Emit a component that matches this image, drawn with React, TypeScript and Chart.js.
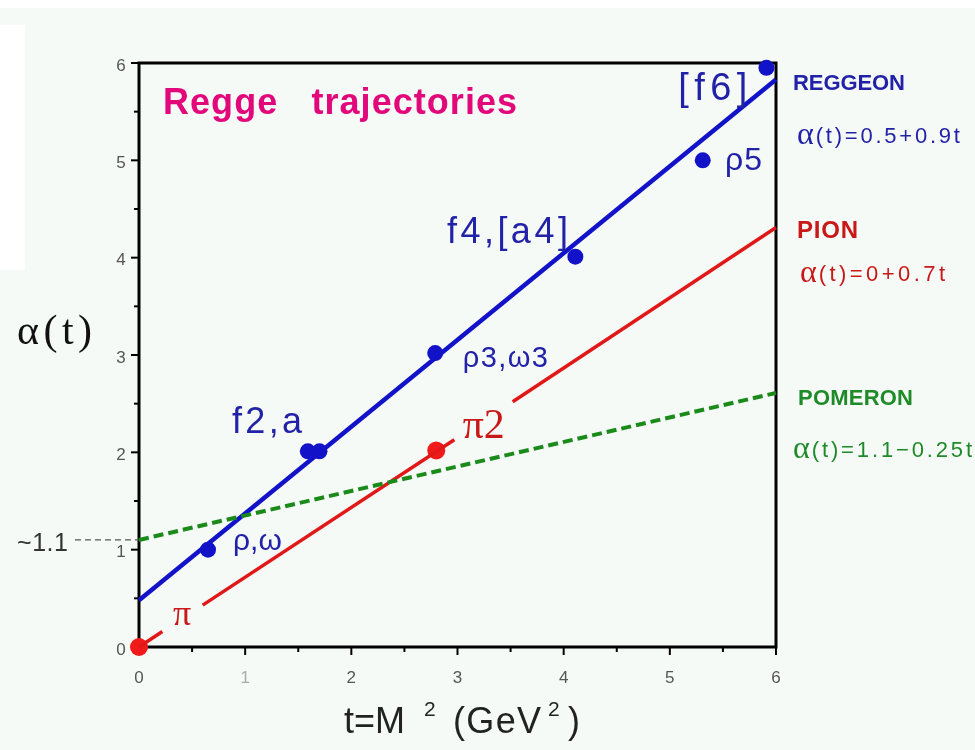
import React, { useEffect, useRef } from "react";
import { Chart, registerables } from "chart.js";

Chart.register(...registerables);

// ---------- data ----------
const tTicks = [0, 1, 2, 3, 4, 5, 6];
const tTickLabels = ["0", "1", "2", "3", "4", "5", "6"];
const alphaTicks = [0, 1, 2, 3, 4, 5, 6];
const alphaTickLabels = ["0", "1", "2", "3", "4", "5", "6"];

// Reggeon trajectory end points (t, alpha)
const reggeonT = [0, 6];
const reggeonAlpha = [0.48, 5.83];
// Pion trajectory, drawn in three pieces (gaps around labels)
const pionSegT = [[0, 0.22], [0.6, 2.97], [3.52, 6]];
const pionSegAlpha = [[0, 0.16], [0.43, 2.13], [2.52, 4.31]];
// Pomeron trajectory
const pomeronT = [0, 6];
const pomeronAlpha = [1.1, 2.61];

// Measured mesons (blue)
const mesonT = [0.65, 1.59, 1.7, 2.79, 4.11, 5.31, 5.91];
const mesonAlpha = [1.0, 2.01, 2.01, 3.02, 4.01, 5.0, 5.95];
// Pions (red)
const pionT = [0, 2.8];
const pionAlpha = [0, 2.02];

// Particle labels (left, baseline in data units)
const blueLabels = ["ρ,ω", "f2,a", "ρ3,ω3", "f4,[a4]", "ρ5", "[f6]"];
const blueLabelT = [0.885, 0.876, 3.05, 2.9, 5.52, 5.08];
const blueLabelAlpha = [1.0, 2.2, 2.88, 4.15, 4.9, 5.62];
const redLabels = ["π", "π2"];
const redLabelT = [0.32, 3.05];
const redLabelAlpha = [0.23, 2.15];

const titleText = "Regge   trajectories";
const yTitle = "α(t)";
const pomeronIntercept = 1.1;
const interceptLabel = "~1.1";

const legendNames = ["REGGEON", "PION", "POMERON"];
const legendFormulas = ["(t)=0.5+0.9t", "(t)=0+0.7t", "(t)=1.1−0.25t"];

// ---------- styles ----------
const BLUE = "#1212c8";
const BLUE_TEXT = "#2222a8";
const RED = "#e01818";
const RED_TEXT = "#c81818";
const GREEN = "#1a8a1a";
const GREEN_TEXT = "#1e8a28";
const MAGENTA = "#e2087c";
const SANS = "'Liberation Sans', Arial, sans-serif";
const SERIF = "'Liberation Serif', 'Times New Roman', serif";

function fitText(ctx: CanvasRenderingContext2D, text: string, x: number, y: number, font: string, color: string, width?: number) {
  ctx.save();
  ctx.font = font;
  ctx.fillStyle = color;
  ctx.textAlign = "left";
  ctx.textBaseline = "alphabetic";
  (ctx as any).letterSpacing = "0px";
  if (width && text.length > 1) {
    const w = ctx.measureText(text).width;
    const ls = (width - w) / (text.length - 1);
    (ctx as any).letterSpacing = ls.toFixed(2) + "px";
  }
  ctx.fillText(text, x, y);
  ctx.restore();
}

const reggePlugin = {
  id: "regge",
  beforeDraw(chart: any) {
    const ctx = chart.ctx as CanvasRenderingContext2D;
    ctx.save();
    ctx.fillStyle = "#f6faf7";
    ctx.fillRect(0, 0, chart.width, chart.height);
    ctx.fillStyle = "#ffffff";
    ctx.fillRect(0, 0, chart.width, 8);
    ctx.fillRect(0, 25, 25, 245);
    ctx.restore();
  },
  beforeDatasetsDraw(chart: any) {
    const ctx = chart.ctx as CanvasRenderingContext2D;
    const x = chart.scales.x;
    const y = chart.scales.y;
    const a = chart.chartArea;
    ctx.save();
    // frame
    ctx.strokeStyle = "#000";
    ctx.lineWidth = 3;
    ctx.strokeRect(a.left, a.top, a.right - a.left, a.bottom - a.top);
    // ticks
    ctx.lineWidth = 2;
    for (let v = 0; v <= 6.001; v += 0.5) {
      const major = Math.abs(v - Math.round(v)) < 0.01;
      const py = y.getPixelForValue(v);
      ctx.beginPath();
      ctx.moveTo(a.left - (major ? 8 : 5), py);
      ctx.lineTo(a.left, py);
      ctx.stroke();
      const px = x.getPixelForValue(v);
      ctx.beginPath();
      ctx.moveTo(px, a.bottom);
      ctx.lineTo(px, a.bottom + (major ? 8 : 5));
      ctx.stroke();
    }
    // tick labels
    ctx.font = "17px " + SANS;
    ctx.textAlign = "center";
    ctx.textBaseline = "middle";
    tTicks.forEach((v, i) => {
      ctx.fillStyle = i === 1 ? "#aaa" : "#555";
      ctx.fillText(tTickLabels[i], x.getPixelForValue(v), a.bottom + 31);
    });
    ctx.fillStyle = "#555";
    alphaTicks.forEach((v, i) => {
      ctx.fillText(alphaTickLabels[i], a.left - 18, y.getPixelForValue(v) + 3);
    });
    // ~1.1 guide
    const py = y.getPixelForValue(pomeronIntercept);
    ctx.strokeStyle = "#555";
    ctx.lineWidth = 1.2;
    ctx.setLineDash([6, 4]);
    ctx.beginPath();
    ctx.moveTo(75, py);
    ctx.lineTo(a.left, py);
    ctx.stroke();
    ctx.setLineDash([]);
    ctx.restore();
    fitText(ctx, interceptLabel, 17, py + 11, "25px " + SANS, "#333", 51);
    // y title
    fitText(ctx, yTitle, 17, 344, "42px " + SERIF, "#111", 75);
    // x title
    const ty = 733;
    fitText(ctx, "t=M", 344, ty, "36px " + SANS, "#222", 61);
    fitText(ctx, "2", 424, ty - 17, "21px " + SANS, "#222");
    fitText(ctx, "(GeV", 453, ty, "36px " + SANS, "#222", 88);
    fitText(ctx, "2", 548, ty - 17, "21px " + SANS, "#222");
    fitText(ctx, ")", 568, ty, "36px " + SANS, "#222");
  },
  afterDatasetsDraw(chart: any) {
    const ctx = chart.ctx as CanvasRenderingContext2D;
    const x = chart.scales.x;
    const y = chart.scales.y;
    // title
    fitText(ctx, titleText, x.getPixelForValue(0.226), y.getPixelForValue(5.48), "bold 36px " + SANS, MAGENTA, 354);
    const blueWidths = [49, 70, 85, 121, 37, 69];
    const blueSizes = [30, 36, 29, 36, 32, 38];
    blueLabels.forEach((s, i) => {
      fitText(ctx, s, x.getPixelForValue(blueLabelT[i]), y.getPixelForValue(blueLabelAlpha[i]), blueSizes[i] + "px " + SANS, BLUE_TEXT, blueWidths[i]);
    });
    const redWidths = [20, 42];
    const redSizes = [36, 42];
    redLabels.forEach((s, i) => {
      fitText(ctx, s, x.getPixelForValue(redLabelT[i]), y.getPixelForValue(redLabelAlpha[i]), redSizes[i] + "px " + SERIF, RED_TEXT, redWidths[i]);
    });
    // right-hand legend
    const nameX = [793, 797, 798];
    const nameY = [90, 238, 405];
    const nameW = [112, 61, 115];
    const nameSize = [22, 24, 22];
    const colors = [BLUE_TEXT, RED_TEXT, GREEN_TEXT];
    const fx = [797, 800, 793];
    const fy = [143, 281, 457];
    const fw = [163, 145, 179];
    legendNames.forEach((n, i) => {
      fitText(ctx, n, nameX[i], nameY[i], "bold " + nameSize[i] + "px " + SANS, colors[i], nameW[i]);
      ctx.save();
      ctx.font = "32px " + SERIF;
      const aw = ctx.measureText("α").width;
      ctx.restore();
      fitText(ctx, "α", fx[i], fy[i] + 1, "32px " + SERIF, colors[i]);
      fitText(ctx, legendFormulas[i], fx[i] + aw + 2, fy[i], "22px " + SANS, colors[i], fw[i] - aw - 2);
    });
  },
};

function pts(ts: number[], as: number[]) {
  return ts.map((t, i) => ({ x: t, y: as[i] }));
}

export default function App() {
  const ref = useRef<HTMLCanvasElement | null>(null);
  useEffect(() => {
    if (!ref.current) return;
    const lineDs = (data: any[], color: string, dash: number[] = [], width = 3.5) => ({
      data,
      showLine: true,
      borderColor: color,
      borderWidth: width,
      borderDash: dash,
      pointRadius: 0,
      pointHoverRadius: 0,
      fill: false,
      clip: false as any,
    });
    const chart = new Chart(ref.current, {
      type: "scatter",
      data: {
        datasets: [
          lineDs(pts(pomeronT, pomeronAlpha), GREEN, [10, 5], 4),
          ...pionSegT.map((seg, i) => lineDs(pts(seg, pionSegAlpha[i]), RED, [], 3.5)),
          lineDs(pts(reggeonT, reggeonAlpha), BLUE, [], 4.5),
          {
            data: pts(mesonT, mesonAlpha),
            showLine: false,
            pointRadius: 8,
            pointBackgroundColor: BLUE,
            pointBorderColor: BLUE,
            pointBorderWidth: 0,
            clip: false as any,
          },
          {
            data: pts(pionT, pionAlpha),
            showLine: false,
            pointRadius: 9,
            pointBackgroundColor: "#f01a1a",
            pointBorderColor: "#f01a1a",
            pointBorderWidth: 0,
            clip: false as any,
          },
        ],
      },
      options: {
        animation: false,
        responsive: false,
        events: [],
        layout: { padding: { left: 139, right: 199, top: 63, bottom: 103 } },
        plugins: { legend: { display: false }, tooltip: { enabled: false } },
        scales: {
          x: { type: "linear", min: 0, max: 6, display: false },
          y: { type: "linear", min: 0, max: 6, display: false },
        },
      },
      plugins: [reggePlugin],
    });
    return () => chart.destroy();
  }, []);
  return (
    <div style={{ position: "absolute", left: 0, top: 0, width: 975, height: 750 }}>
      <canvas ref={ref} width={975} height={750} style={{ display: "block" }} />
    </div>
  );
}
